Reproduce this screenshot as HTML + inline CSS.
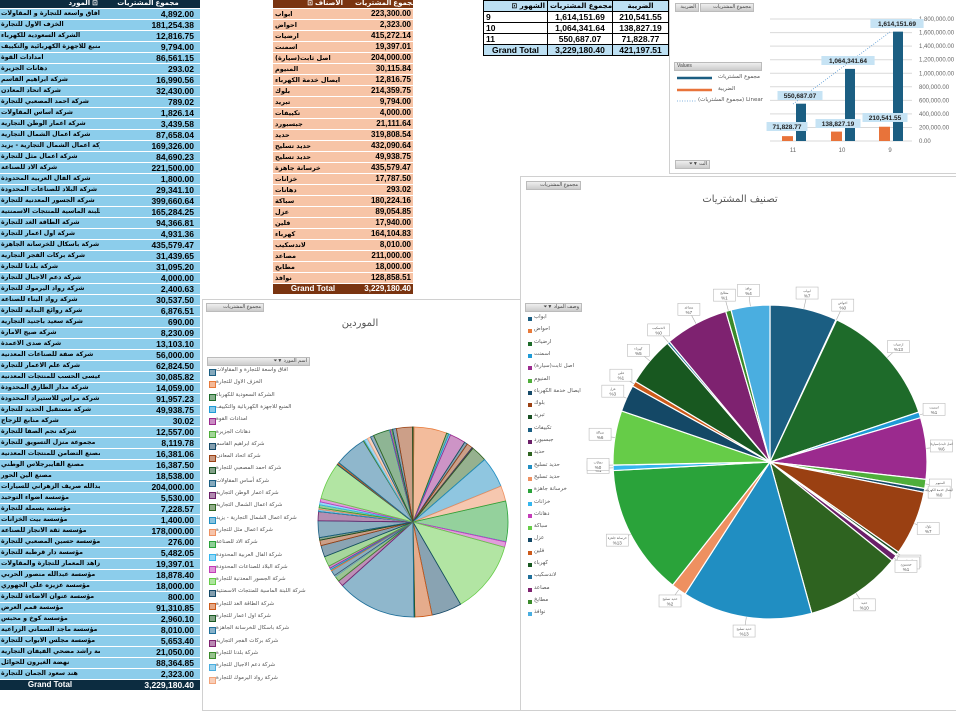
<!DOCTYPE html>
<html><head><meta charset="utf-8">
<style>
body{margin:0;width:956px;height:708px;background:#fff;position:relative;overflow:hidden;font-family:"Liberation Sans","DejaVu Sans",sans-serif}
.abs{position:absolute}
table{border-collapse:collapse;position:absolute;table-layout:fixed}
td{padding:0 2px;height:10px;line-height:10px;font-size:8px;font-weight:bold;white-space:nowrap;overflow:hidden}
.lt td{background:#8ccdeb;border-bottom:1px solid #fff}
.lt td.n{text-align:left;font-size:6.3px;font-family:"DejaVu Sans",sans-serif;padding-left:1px}
.lt td.v{text-align:right;padding-right:6px;font-size:8.5px}
.lt tr.h td{background:#0c2c40;color:#fff;height:8px;line-height:8px;font-size:7px}
.lt tr.g td{background:#0c2c40;color:#fff}
.mt td{background:#f7c4a6;border-bottom:1px solid #fff}
.mt td.n{text-align:left;font-size:6.5px;font-family:"DejaVu Sans",sans-serif}
.mt tr.h td,.mt tr.g td{background:#7a3410;color:#fff}
.mt tr.h td{height:8px;line-height:8px;font-size:7px}
.rt td{border:1px solid #000;font-size:8.5px}
.rt tr.h td,.rt tr.g td{background:#bde0f3}
.btn{position:absolute;background:linear-gradient(#eee,#ccc);border:1px solid #bbb;font-size:5px;color:#444;text-align:right;line-height:7px;height:7px;direction:rtl;padding-right:2px;box-sizing:content-box}
.panel{position:absolute;border:1px solid #d0d0d0;box-sizing:border-box}
.leg{position:absolute;font-size:5.5px;color:#555;direction:rtl;white-space:nowrap;font-family:"DejaVu Sans",sans-serif}
</style></head><body>
<table class="lt" id="lt" style="left:0;top:0;width:200px"><colgroup><col style="width:100px"><col style="width:100px"></colgroup></table>
<table class="mt" id="mt" style="left:273px;top:0;width:140px"><colgroup><col style="width:80px"><col style="width:60px"></colgroup></table>
<table class="rt" style="left:483px;top:0;width:185px"><colgroup><col style="width:64px"><col style="width:65px"><col style="width:56px"></colgroup>
<tr class="h"><td style="font-size:7px;height:8px;line-height:8px;direction:rtl;font-family:'DejaVu Sans'">الشهور ⊡</td><td style="text-align:center;font-size:7px;height:8px;line-height:8px;font-family:'DejaVu Sans'">مجموع المشتريات</td><td style="text-align:center;font-size:7px;font-family:'DejaVu Sans'">الضريبة</td></tr>
<tr><td>9</td><td style="text-align:center">1,614,151.69</td><td style="text-align:center">210,541.55</td></tr>
<tr><td>10</td><td style="text-align:center">1,064,341.64</td><td style="text-align:center">138,827.19</td></tr>
<tr><td>11</td><td style="text-align:center">550,687.07</td><td style="text-align:center">71,828.77</td></tr>
<tr class="g"><td style="text-align:center">Grand Total</td><td style="text-align:center">3,229,180.40</td><td style="text-align:center">421,197.51</td></tr>
</table>

<div class="panel" style="left:669px;top:-2px;width:290px;height:176px"></div>
<div class="btn" style="left:675px;top:3px;width:20px">الضريبة</div>
<div class="btn" style="left:700px;top:3px;width:50px">مجموع المشتريات</div>
<div class="btn" style="left:674px;top:62px;width:84px;text-align:left;padding-left:2px;padding-right:0">Values</div>
<div class="btn" style="left:675px;top:160px;width:31px">الت ▼⏷</div>
<svg class="abs" style="left:0;top:0" width="956" height="708" id="sv"></svg>
<div class="leg" style="left:718px;top:74px">مجموع المشتريات</div>
<div class="leg" style="left:718px;top:86px">الضريبة</div>
<div class="leg" style="left:698px;top:97px">Linear (مجموع المشتريات)</div>

<div class="panel" style="left:202px;top:299px;width:319px;height:412px"></div>
<div class="panel" style="left:520px;top:176px;width:440px;height:535px"></div>
<div class="btn" style="left:206px;top:303px;width:54px">مجموع المشتريات</div>
<div class="btn" style="left:526px;top:181px;width:51px">مجموع المشتريات</div>
<div class="btn" style="left:207px;top:357px;width:99px">اسم المورد ▼⏷</div>
<div class="btn" style="left:525px;top:303px;width:53px">وصف المواد ▼⏷</div>
<div class="abs" style="left:300px;top:318px;width:120px;text-align:center;font-size:10px;color:#555;font-family:'DejaVu Sans'">الموردين</div>
<div class="abs" style="left:680px;top:194px;width:120px;text-align:center;font-size:10px;color:#555;font-family:'DejaVu Sans'">تصنيف المشتريات</div>
<div id="extra"></div>
<script>
var sup=[["افاق واسعة للتجارة و المقاولات",4892],["الخزف الاول للتجارة",181254.38],["الشركة السعودية للكهرباء",12816.75],["المنبع للاجهزة الكهربائية والتكييف",9794],["امدادات القوة",86561.15],["دهانات الجزيرة",293.02],["شركة ابراهيم القاسم",16990.56],["شركة اتحاد المعادن",32430],["شركة احمد المصعبي للتجارة",789.02],["شركة أساس المقاولات",1826.14],["شركة اعمار الوطن التجارية",3439.58],["شركة اعمال الشمال التجارية",87658.04],["شركة اعمال الشمال التجارية - يزيد",169326],["شركة اعمال مثل للتجارة",84690.23],["شركة الاد للصناعة",221500],["شركة الفال العربية المحدودة",1800],["شركة البلاد للصناعات المحدودة",29341.10],["شركة الجسور المعدنية للتجارة",399660.64],["شركة اللبنة الماسية للمنتجات الاسمنتية",165284.25],["شركة الطاقة الغد للتجارة",94366.81],["شركة اول اعمار للتجارة",4931.36],["شركة باسكال للخرسانة الجاهزة",435579.47],["شركة بركات الفجر التجارية",31439.65],["شركة بلدنا للتجارة",31095.20],["شركة دعم الاجيال للتجارة",4000],["شركة رواد اليرموك للتجارة",2400.63],["شركة رواد البناء للصناعة",30537.50],["شركة روائع البداية للتجارة",6876.51],["شركة سعيد باجنيد التجارية",690],["شركة صيج الامارة",8230.09],["شركة صدى الاعمدة",13103.10],["شركة صفة للصناعات المعدنية",56000],["شركة علم الاعمار للتجارة",62824.50],["شركة محمد عيسى الحسب للمنتجات المعدنية",30085.82],["شركة مدار الطارق المحدودة",14059],["شركة مراس للاستيراد المحدودة",91957.23],["شركة مستقبل الحديد للتجارة",49938.75],["شركة منابع للزجاج",30.02],["شركة نجم الصفا للتجارة",12557],["مجموعة منزل التسويق للتجارة",8119.78],["مصنع التضامن للمنتجات المعدنية",16381.06],["مصنع الفايبرجلاس الوطني",16387.50],["مصنع الين الحور",18538],["معرض عبدالله صريف الزهراني للسيارات",204000],["مؤسسة اضواء التوحيد",5530],["مؤسسة بسملة للتجارة",7228.57],["مؤسسة بيت الخزانات",1400],["مؤسسة ثقة الانجاز للصناعة",178000],["مؤسسة حسين المصعبي للتجارة",276],["مؤسسة دار قرطبة للتجارة",5482.05],["مؤسسة زاهد المعمار للتجارة والمقاولات",19397.01],["مؤسسة عبدالله منصور الحربي",18878.40],["مؤسسة عزيزه علي الجهوري",18000],["مؤسسة عنوان الاضاءة للتجارة",800],["مؤسسة قمم العرض",91310.85],["مؤسسة كوخ و محبس",2960.10],["مؤسسة ماجد السماني الزراعية",8010],["مؤسسة مجلس الابواب للتجارة",5653.40],["مؤسسة راشد مضحي الفيفان التجارية",21050],["نهضة الغيرون للحوائل",88364.85],["هند سعود الجمان للتجارة",2323]];
var cat=[["ابواب",223300],["احواض",2323],["ارضيات",415272.14],["اسمنت",19397.01],["اصل ثابت(سيارة)",204000],["المنيوم",30115.84],["ايصال خدمة الكهرباء",12816.75],["بلوك",214359.75],["تبريد",9794],["تكييفات",4000],["جبسبورد",21111.64],["حديد",319808.54],["حديد تسليح",432090.64],["حديد تسليح ",49938.75],["خرسانة جاهزة",435579.47],["خزانات",17787.50],["دهانات",293.02],["سباكة",180224.16],["عزل",89054.85],["فلين",17940],["كهرباء",164104.83],["لاندسكيب",8010],["مصاعد",211000],["مطابخ",18000],["نوافذ",128858.51]];
var col=["#1b5e82","#e87a3a","#1e6b2a","#1e9ad6","#9b2a8e","#4fae3a","#164a68","#9a4012","#184f22","#1a5e82","#6a1f68","#2e6320","#208ec2","#ee9060","#2aa33a","#35b6ee","#c43cb8","#66cc48","#144866","#cc5a1a","#185820","#1f6f99","#7e2270","#3a8a2a","#4aaee0","#f2a47a"];
function f(v){return v.toLocaleString('en-US',{minimumFractionDigits:2,maximumFractionDigits:2});}
var h='<tr class="h"><td style="text-align:right;direction:rtl">⊡ المورد</td><td class="v" style="text-align:center">مجموع المشتريات</td></tr>';
sup.forEach(function(s){h+='<tr><td class="n"><span dir="rtl">'+s[0]+'</span></td><td class="v">'+f(s[1])+'</td></tr>';});
h+='<tr class="g"><td style="text-align:center">Grand Total</td><td class="v">3,229,180.40</td></tr>';
document.getElementById('lt').innerHTML+=h;
h='<tr class="h"><td style="text-align:right;direction:rtl;padding-right:10px">الأصناف ⊡</td><td style="text-align:center">مجموع المشتريات</td></tr>';
cat.forEach(function(s){h+='<tr><td class="n"><span dir="rtl">'+s[0]+'</span></td><td style="text-align:right">'+f(s[1])+'</td></tr>';});
h+='<tr class="g"><td style="text-align:center">Grand Total</td><td style="text-align:right">3,229,180.40</td></tr>';
document.getElementById('mt').innerHTML+=h;
var NS='http://www.w3.org/2000/svg',sv=document.getElementById('sv');
function el(t,a,txt){var e=document.createElementNS(NS,t);for(var k in a)e.setAttribute(k,a[k]);if(txt!=null)e.textContent=txt;sv.appendChild(e);return e;}
for(var i=0;i<=9;i++){var y=141-i*13.55;el('line',{x1:770,x2:912,y1:y,y2:y,stroke:'#d9d9d9','stroke-width':1});el('text',{x:919,y:y+2,'font-size':6,fill:'#666'},f(i*200000));}
var X=[793,842,890],B=[550687.07,1064341.64,1614151.69],T=[71828.77,138827.19,210541.55];
for(i=0;i<3;i++){var hb=B[i]/200000*13.55,ht=T[i]/200000*13.55;
el('rect',{x:X[i]+3,y:141-hb,width:10,height:hb,fill:'#1b5e82'});
el('rect',{x:X[i]-11,y:141-ht,width:11,height:ht,fill:'#e8733a'});
el('text',{x:X[i],y:152,'font-size':6,fill:'#666','text-anchor':'middle'},['11','10','9'][i]);}
el('line',{x1:793,y1:104,x2:890,y2:32,stroke:'#5b9bd5','stroke-width':0.8,'stroke-dasharray':'1,1.5'});
[[800,97,'550,687.07'],[848,62,'1,064,341.64'],[897,25,'1,614,151.69'],[787,128,'71,828.77'],[838,125,'138,827.19'],[885,119,'210,541.55']].forEach(function(l){
var w=l[2].length*4.1+4;el('rect',{x:l[0]-w/2,y:l[1]-6,width:w,height:9,fill:'#c6e3f4'});el('text',{x:l[0],y:l[1]+1,'font-size':6.5,'font-weight':'bold',fill:'#222','text-anchor':'middle'},l[2]);});
el('line',{x1:677,x2:712,y1:78,y2:78,stroke:'#1b5e82','stroke-width':2.5});
el('line',{x1:677,x2:712,y1:90,y2:90,stroke:'#e8733a','stroke-width':2.5});
el('line',{x1:677,x2:696,y1:101,y2:101,stroke:'#5b9bd5','stroke-width':0.8,'stroke-dasharray':'1,1.5'});
function pie(data,cx,cy,r,op,stroke,sw){var tot=0;data.forEach(function(d){tot+=d[1];});var a=0,res=[];
data.forEach(function(d,i){var a2=a+d[1]/tot*2*Math.PI;var c=col[i%col.length];
var x1=cx+r*Math.sin(a),y1=cy-r*Math.cos(a),x2=cx+r*Math.sin(a2),y2=cy-r*Math.cos(a2);
el('path',{d:'M'+cx+','+cy+'L'+x1+','+y1+'A'+r+','+r+' 0 '+((a2-a)>Math.PI?1:0)+' 1 '+x2+','+y2+'Z',fill:c,'fill-opacity':op,stroke:stroke||c,'stroke-width':sw});
res.push((a+a2)/2);a=a2;});return res;}
pie(sup,413,522,95,0.5,null,0.8);
var mids=pie(cat,770,462,157,1,'#fff',1.2);
mids.forEach(function(m,i){var x=770+172*Math.sin(m),y=462-172*Math.cos(m);
el('line',{x1:770+157*Math.sin(m),y1:462-157*Math.cos(m),x2:x,y2:y,stroke:'#aaa','stroke-width':0.6});
el('rect',{x:x-11,y:y-7,width:22,height:12,fill:'#fff',stroke:'#bbb','stroke-width':0.6});
el('text',{x:x,y:y-2,'font-size':3.2,fill:'#555','text-anchor':'middle','font-family':'DejaVu Sans'},cat[i][0]);
el('text',{x:x,y:y+3.5,'font-size':4.5,fill:'#555','text-anchor':'middle'},'%'+Math.round(cat[i][1]/3229180*100));});
var ex='';
for(i=0;i<26;i++){var y=371+i*12.3;ex+='<div class="abs" style="left:209px;top:'+(y-2)+'px;width:5px;height:5px;border:1px solid '+col[i]+';background:'+col[i]+'88"></div><div class="leg" style="left:216px;top:'+(y-4)+'px">'+sup[i][0]+'</div>';}
for(i=0;i<25;i++){var y=317+i*12.3;ex+='<div class="abs" style="left:528px;top:'+y+'px;width:4px;height:4px;background:'+col[i]+'"></div><div class="leg" style="left:534px;top:'+(y-3)+'px">'+cat[i][0]+'</div>';}
document.getElementById('extra').innerHTML=ex;
</script>
</body></html>
